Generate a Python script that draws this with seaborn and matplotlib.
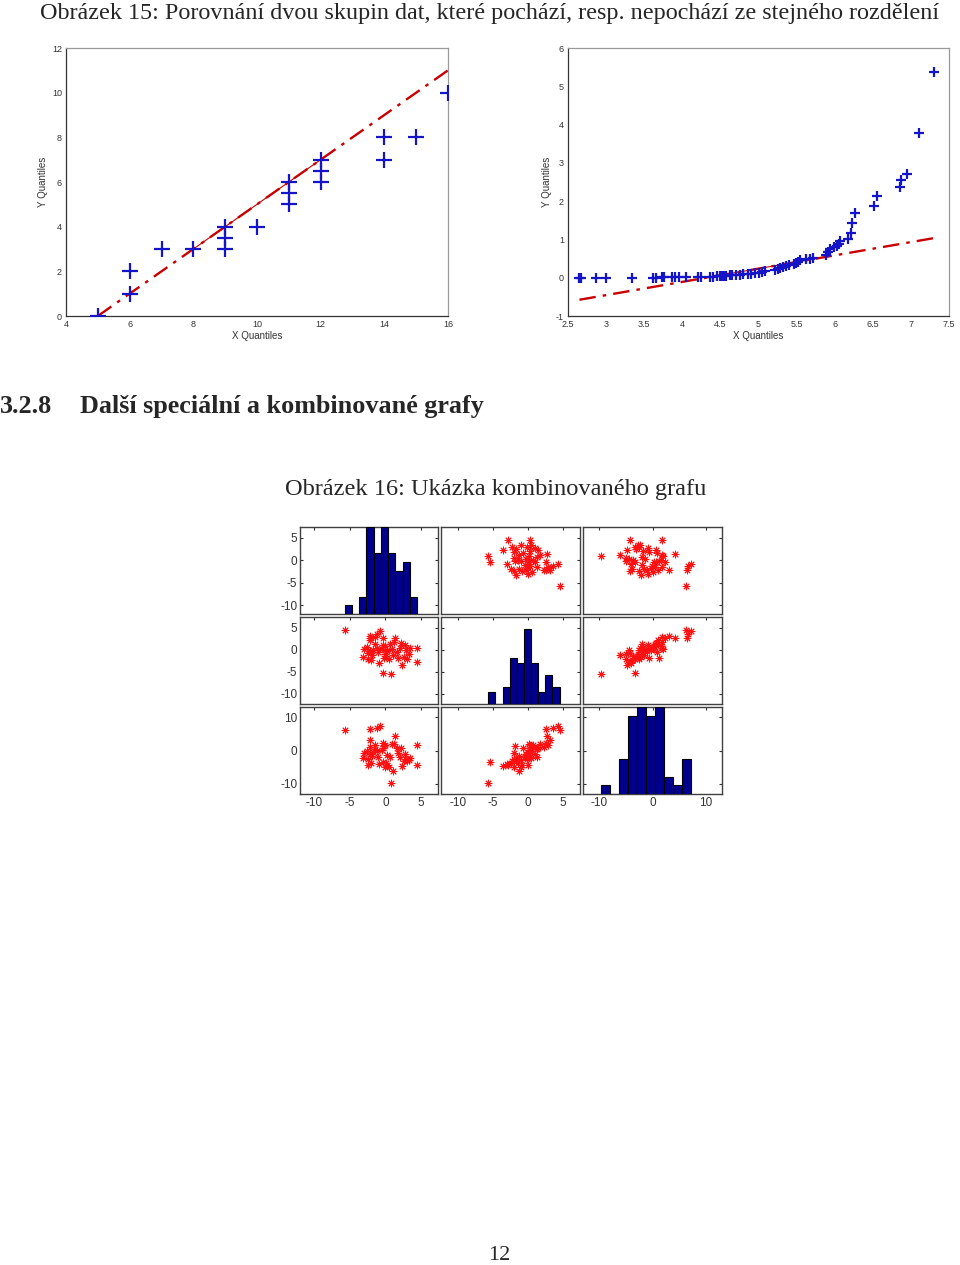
import numpy as np
import pandas as pd
import matplotlib
matplotlib.use("Agg")
import matplotlib.pyplot as plt
import seaborn as sns

# ---------------- data ----------------
# Figure 15, left: QQ plot (same distribution)
qq1_x = [5, 6, 6, 7, 8, 9, 9, 9, 10, 11, 11, 11, 12, 12, 12, 14, 14, 15, 16]
qq1_y = [0, 1, 2, 3, 3, 3, 3.5, 4, 4, 5, 5.5, 6, 6, 6.5, 7, 7, 8, 8, 10]
qq1_ref_x = [8, 12]          # quartile anchor points of the reference line
qq1_ref_y = [3, 7]

# Figure 15, right: QQ plot (different distribution)
qq2_x = [2.65, 2.67, 2.87, 3.00, 3.34, 3.62, 3.65, 3.73, 3.76, 3.86, 3.90, 3.96,
         4.05, 4.20, 4.24, 4.36, 4.40, 4.45, 4.49, 4.52, 4.55, 4.58, 4.62, 4.65,
         4.70, 4.76, 4.80, 4.86, 4.90, 4.96, 5.00, 5.04, 5.08, 5.22, 5.25, 5.28,
         5.32, 5.36, 5.40, 5.46, 5.49, 5.52, 5.55, 5.62, 5.67, 5.71, 5.88, 5.91,
         5.94, 5.99, 6.03, 6.05, 6.07, 6.18, 6.22, 6.23, 6.27, 6.52, 6.55, 6.86,
         6.87, 6.95, 7.11, 7.30]
qq2_y = [0.00, 0.00, 0.00, 0.00, 0.00, 0.00, 0.00, 0.01, 0.01, 0.01, 0.01, 0.01,
         0.02, 0.02, 0.02, 0.03, 0.03, 0.04, 0.04, 0.05, 0.05, 0.05, 0.06, 0.06,
         0.07, 0.08, 0.09, 0.10, 0.11, 0.12, 0.13, 0.15, 0.17, 0.21, 0.23, 0.25,
         0.27, 0.30, 0.32, 0.35, 0.38, 0.42, 0.45, 0.48, 0.50, 0.52, 0.60, 0.68,
         0.74, 0.80, 0.84, 0.88, 0.97, 1.00, 1.18, 1.42, 1.68, 1.87, 2.13, 2.38,
         2.55, 2.72, 3.78, 5.38]
qq2_ref_x = [4.4, 5.7]
qq2_ref_y = [0.03, 0.48]

# Figure 16: scatter-plot matrix of three variables (50 observations)
v1 = [-5.72, -0.8, -1.2, -2.1, 1.4, -2.2, -0.3, -1.5, 0.85, -0.4, 4.48, 4.45, 1.05,
      2.3, -0.9, -0.1, 0.5,
      -2.0, 3.0, -2.4, 1.8, -0.2, 2.6, -3.2, 0.1, -1.9, 3.3, -2.5, 1.6, -1.0, 0.2,
      -2.2, 2.9, -1.8, 0.3, -3.0, 1.0, -0.5, 2.0, -1.2, 3.4, -2.6, 0.0, 2.7, -0.3,
      0.6, -1.5, 2.2, 1.2, -2.1]
v2 = [4.58, 4.4, 3.7, 2.7, 2.8, 3.2, 2.6, 2.9, -5.62, -5.4, -2.75, 0.35, -1.3,
      -3.5, -3.0, -1.0, -2.0,
      -2.4, -2.2, -2.0, -1.9, -1.8, -1.7, -1.6, -1.4, -1.2, -1.0, -0.8, -0.6, -0.4,
      -0.3, -0.2, -0.1, 0.0, 0.0, 0.1, 0.2, 0.2, 0.3, 0.4, 0.45, 0.6, 0.8, 1.0, 1.1,
      1.3, 1.4, 1.45, 1.8, 2.3]
v3 = [6.2, 7.18, 6.6, 6.5, 4.3, 3.1, 2.3, 1.7, -9.62, -3.3, -4.3, 1.7, -6.1,
      -4.7, -4.0, -5.0, -4.9,
      -3.8, -3.2, -2.5, -0.6, 1.2, -3.0, -2.2, -3.6, -1.5, -2.7, -4.2, 0.8, -2.0,
      -1.4, -1.0, -2.6, -0.3, -4.4, -0.8, 2.0, 0.2, -1.8, -0.1, -2.3, 0.0, 1.5, -0.9,
      0.7, -1.9, 0.4, 0.6, 1.8, 1.0]
var_limits = [(-12.0, 7.4), (-12.4, 7.5), (-13.0, 13.0)]
var_ticks = [[-10, -5, 0, 5], [-10, -5, 0, 5], [-10, 0, 10]]
hist_top = [10, 15, 10]

caption15 = "Obrázek 15: Porovnání dvou skupin dat, které pochází, resp. nepochází ze stejného rozdělení"
section_no = "3.2.8"
section_title = "Další speciální a kombinované grafy"
caption16 = "Obrázek 16: Ukázka kombinovaného grafu"
page_no = "12"

# ---------------- style ----------------
sns.set_style("white")
plt.rcParams["font.family"] = ["Liberation Sans", "DejaVu Sans"]
plt.rcParams["axes.unicode_minus"] = False

W, H = 960, 1265
fig = plt.figure(figsize=(W / 100, H / 100), dpi=100)
fig.patch.set_facecolor("white")


def add_ax(l, t, r, b):
    return fig.add_axes([l / W, 1 - b / H, (r - l) / W, (b - t) / H])


SERIF = ["Liberation Serif", "DejaVu Serif"]
BLUE = "#1414c8"
RED = "#c80000"


def qq_panel(ax, x, y, rx, ry, size):
    sns.scatterplot(x=x, y=y, marker="+", s=size, color=BLUE, linewidth=1.6,
                    ax=ax, zorder=3, legend=False)
    slope = (ry[1] - ry[0]) / (rx[1] - rx[0])
    ex = np.array([min(x), max(x)])
    ey = ry[0] + slope * (ex - rx[0])
    ax.plot(ex, ey, color=RED, lw=1.7, ls=(0, (7, 3, 1.5, 3)), zorder=2)
    ax.plot(rx, ry, color=RED, lw=0.8, zorder=2)
    ax.set_xlabel("X Quantiles", fontsize=7, labelpad=1, color="#333333")
    ax.set_ylabel("Y Quantiles", fontsize=7, labelpad=3, color="#333333")
    ax.tick_params(direction="in", length=3, labelsize=6.5, pad=3,
                   colors="#333333", top=False, right=False)
    for side in ["left", "bottom"]:
        ax.spines[side].set_color("#333333")
    for side in ["top", "right"]:
        ax.spines[side].set_color("#9a9a9a")
    for s in ax.spines.values():
        s.set_linewidth(0.9)


ax1 = add_ax(66, 48, 448, 316)
qq_panel(ax1, qq1_x, qq1_y, qq1_ref_x, qq1_ref_y, 140)
ax1.set_xlim(4, 16)
ax1.set_ylim(0, 12)
ax1.set_xticks(range(4, 17, 2))
ax1.set_yticks(range(0, 13, 2))

ax2 = add_ax(568, 48, 949, 316)
qq_panel(ax2, qq2_x, qq2_y, qq2_ref_x, qq2_ref_y, 60)
ax2.set_xlim(2.5, 7.5)
ax2.set_ylim(-1, 6)
ax2.set_xticks(np.arange(2.5, 7.6, 0.5))
ax2.set_xticklabels(["2.5", "3", "3.5", "4", "4.5", "5", "5.5", "6", "6.5", "7", "7.5"])
ax2.set_yticks(range(-1, 7))

# ---------------- scatter matrix ----------------
variables = [v1, v2, v3]
col_edges = [(300, 438), (441, 580), (583, 722)]
row_edges = [(527, 614), (617, 704), (707, 794)]
NAVY = "#00008c"

for i in range(3):
    for j in range(3):
        l, r = col_edges[j]
        t, b = row_edges[i]
        ax = add_ax(l, t, r, b)
        if i == j:
            tw = ax.twinx()
            sns.histplot(x=variables[j], bins=10, ax=tw, color=NAVY,
                         edgecolor="black", linewidth=0.8, alpha=1.0)
            tw.set_ylim(0, hist_top[j])
            tw.set_yticks([])
            tw.set_ylabel("")
            for s in tw.spines.values():
                s.set_visible(False)
        else:
            sns.scatterplot(x=variables[j], y=variables[i], marker=(8, 2, 0), s=24,
                            color="#ff1010", edgecolor="#e00000", linewidth=0.7,
                            ax=ax, legend=False)
        ax.set_xlim(*var_limits[j])
        ax.set_ylim(*var_limits[i])
        ax.set_xticks(var_ticks[j])
        ax.set_yticks(var_ticks[i])
        ax.tick_params(direction="in", length=2.5, labelsize=8.5, pad=2,
                       colors="#333333", top=True, right=True)
        if j != 0:
            ax.set_yticklabels([])
        if i != 2:
            ax.set_xticklabels([])
        for s in ax.spines.values():
            s.set_color("#404040")
            s.set_linewidth(1.0)

# ---------------- page texts ----------------
fig.text(40 / W, 1 - 13 / H, caption15, fontsize=17.4, family=SERIF,
         ha="left", va="center")
fig.text(0 / W, 1 - 407 / H, section_no, fontsize=18.8, family=SERIF,
         fontweight="bold", ha="left", va="center")
fig.text(80 / W, 1 - 407 / H, section_title, fontsize=18.8, family=SERIF,
         fontweight="bold", ha="left", va="center")
fig.text(496 / W, 1 - 489 / H, caption16, fontsize=17.6, family=SERIF,
         ha="center", va="center")
fig.text(499 / W, 1 - 1256 / H, page_no, fontsize=16, family=SERIF,
         ha="center", va="center")

fig.savefig("out.png", dpi=100)
